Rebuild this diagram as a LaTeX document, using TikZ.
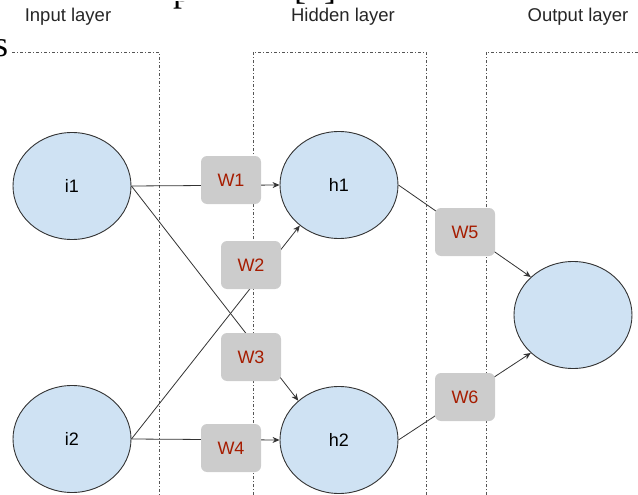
\documentclass[tikz,border=0pt]{standalone}
\usepackage{fontspec}
\setmainfont{Liberation Sans}
\newfontfamily\bodyserif{Liberation Serif}
\usetikzlibrary{arrows.meta,shapes.geometric}

\definecolor{nodefill}{HTML}{CFE2F3}
\definecolor{edgegray}{HTML}{333333}
\definecolor{boxgray}{HTML}{CCCCCC}
\definecolor{weightred}{HTML}{A61C00}
\definecolor{framegray}{HTML}{555555}

\begin{document}
\begin{tikzpicture}[x=1pt,y=-1pt,
  neuron/.style={ellipse, draw=edgegray, line width=0.9pt, fill=nodefill,
    minimum width=118pt, minimum height=107pt, inner sep=0pt,
    font=\fontsize{18}{20}\selectfont},
  weight/.style={rounded corners=6pt, fill=boxgray, minimum width=60pt,
    minimum height=48pt, inner sep=0pt, text=weightred,
    font=\fontsize{18}{20}\selectfont},
  layerframe/.style={draw=framegray, line width=0.7pt,
    dash pattern=on 3pt off 2pt on 1pt off 2pt},
  conn/.style={draw=edgegray, line width=0.8pt,
    -{Stealth[length=7pt,width=6pt]}},
  layertitle/.style={font=\fontsize{18.5}{20}\selectfont, text=black!85},
  bodytext/.style={font=\bodyserif\fontsize{36}{40}\selectfont, inner sep=0pt,
    anchor=base west}
]
\useasboundingbox (0,0) rectangle (638,495);

% surrounding body text, cut by the page edge
\begin{scope}
  \clip (0,0) rectangle (638,495);
  \node[bodytext] (tail) at (-6,57) {s};
  \node[bodytext] (frag2) at (294,0) {[1]};
\end{scope}
\begin{scope}
  \clip (0,1.5) rectangle (638,495);
  \node[bodytext] (frag1) at (173,1.5) {p};
\end{scope}

% layer titles
\node[layertitle] (tin)  at (68,17)  {Input layer};
\node[layertitle] (thid) at (343,17) {Hidden layer};
\node[layertitle] (tout) at (578,17) {Output layer};

% layer frames
\draw[layerframe] (12,52) -- (159,52) -- (159,495);
\draw[layerframe] (253,495) -- (253,52) -- (426,52) -- (426,495);
\draw[layerframe] (486,495) -- (486,52) -- (638,52);

% neurons
\node[neuron] (i1) at (72,186)  {i1};
\node[neuron] (i2) at (72,439)  {i2};
\node[neuron] (h1) at (339,185) {h1};
\node[neuron] (h2) at (339,440) {h2};
\node[neuron] (o)  at (573,315) {};

% connections
\draw[conn] (i1.east) -- (h1.west);
\draw[conn] (i1.east) -- (h2.136);
\draw[conn] (i2.east) -- (h1.226);
\draw[conn] (i2.east) -- (h2.west);
\draw[conn] (h1.east) -- (o.138);
\draw[conn] (h2.east) -- (o.222);

% weights, laid over the connections
\node[weight] (w1) at (231,180) {W1};
\node[weight] (w2) at (251,265) {W2};
\node[weight] (w3) at (251,357) {W3};
\node[weight] (w4) at (231,448) {W4};
\node[weight] (w5) at (465,232) {W5};
\node[weight] (w6) at (465,397) {W6};
\end{tikzpicture}
\end{document}
